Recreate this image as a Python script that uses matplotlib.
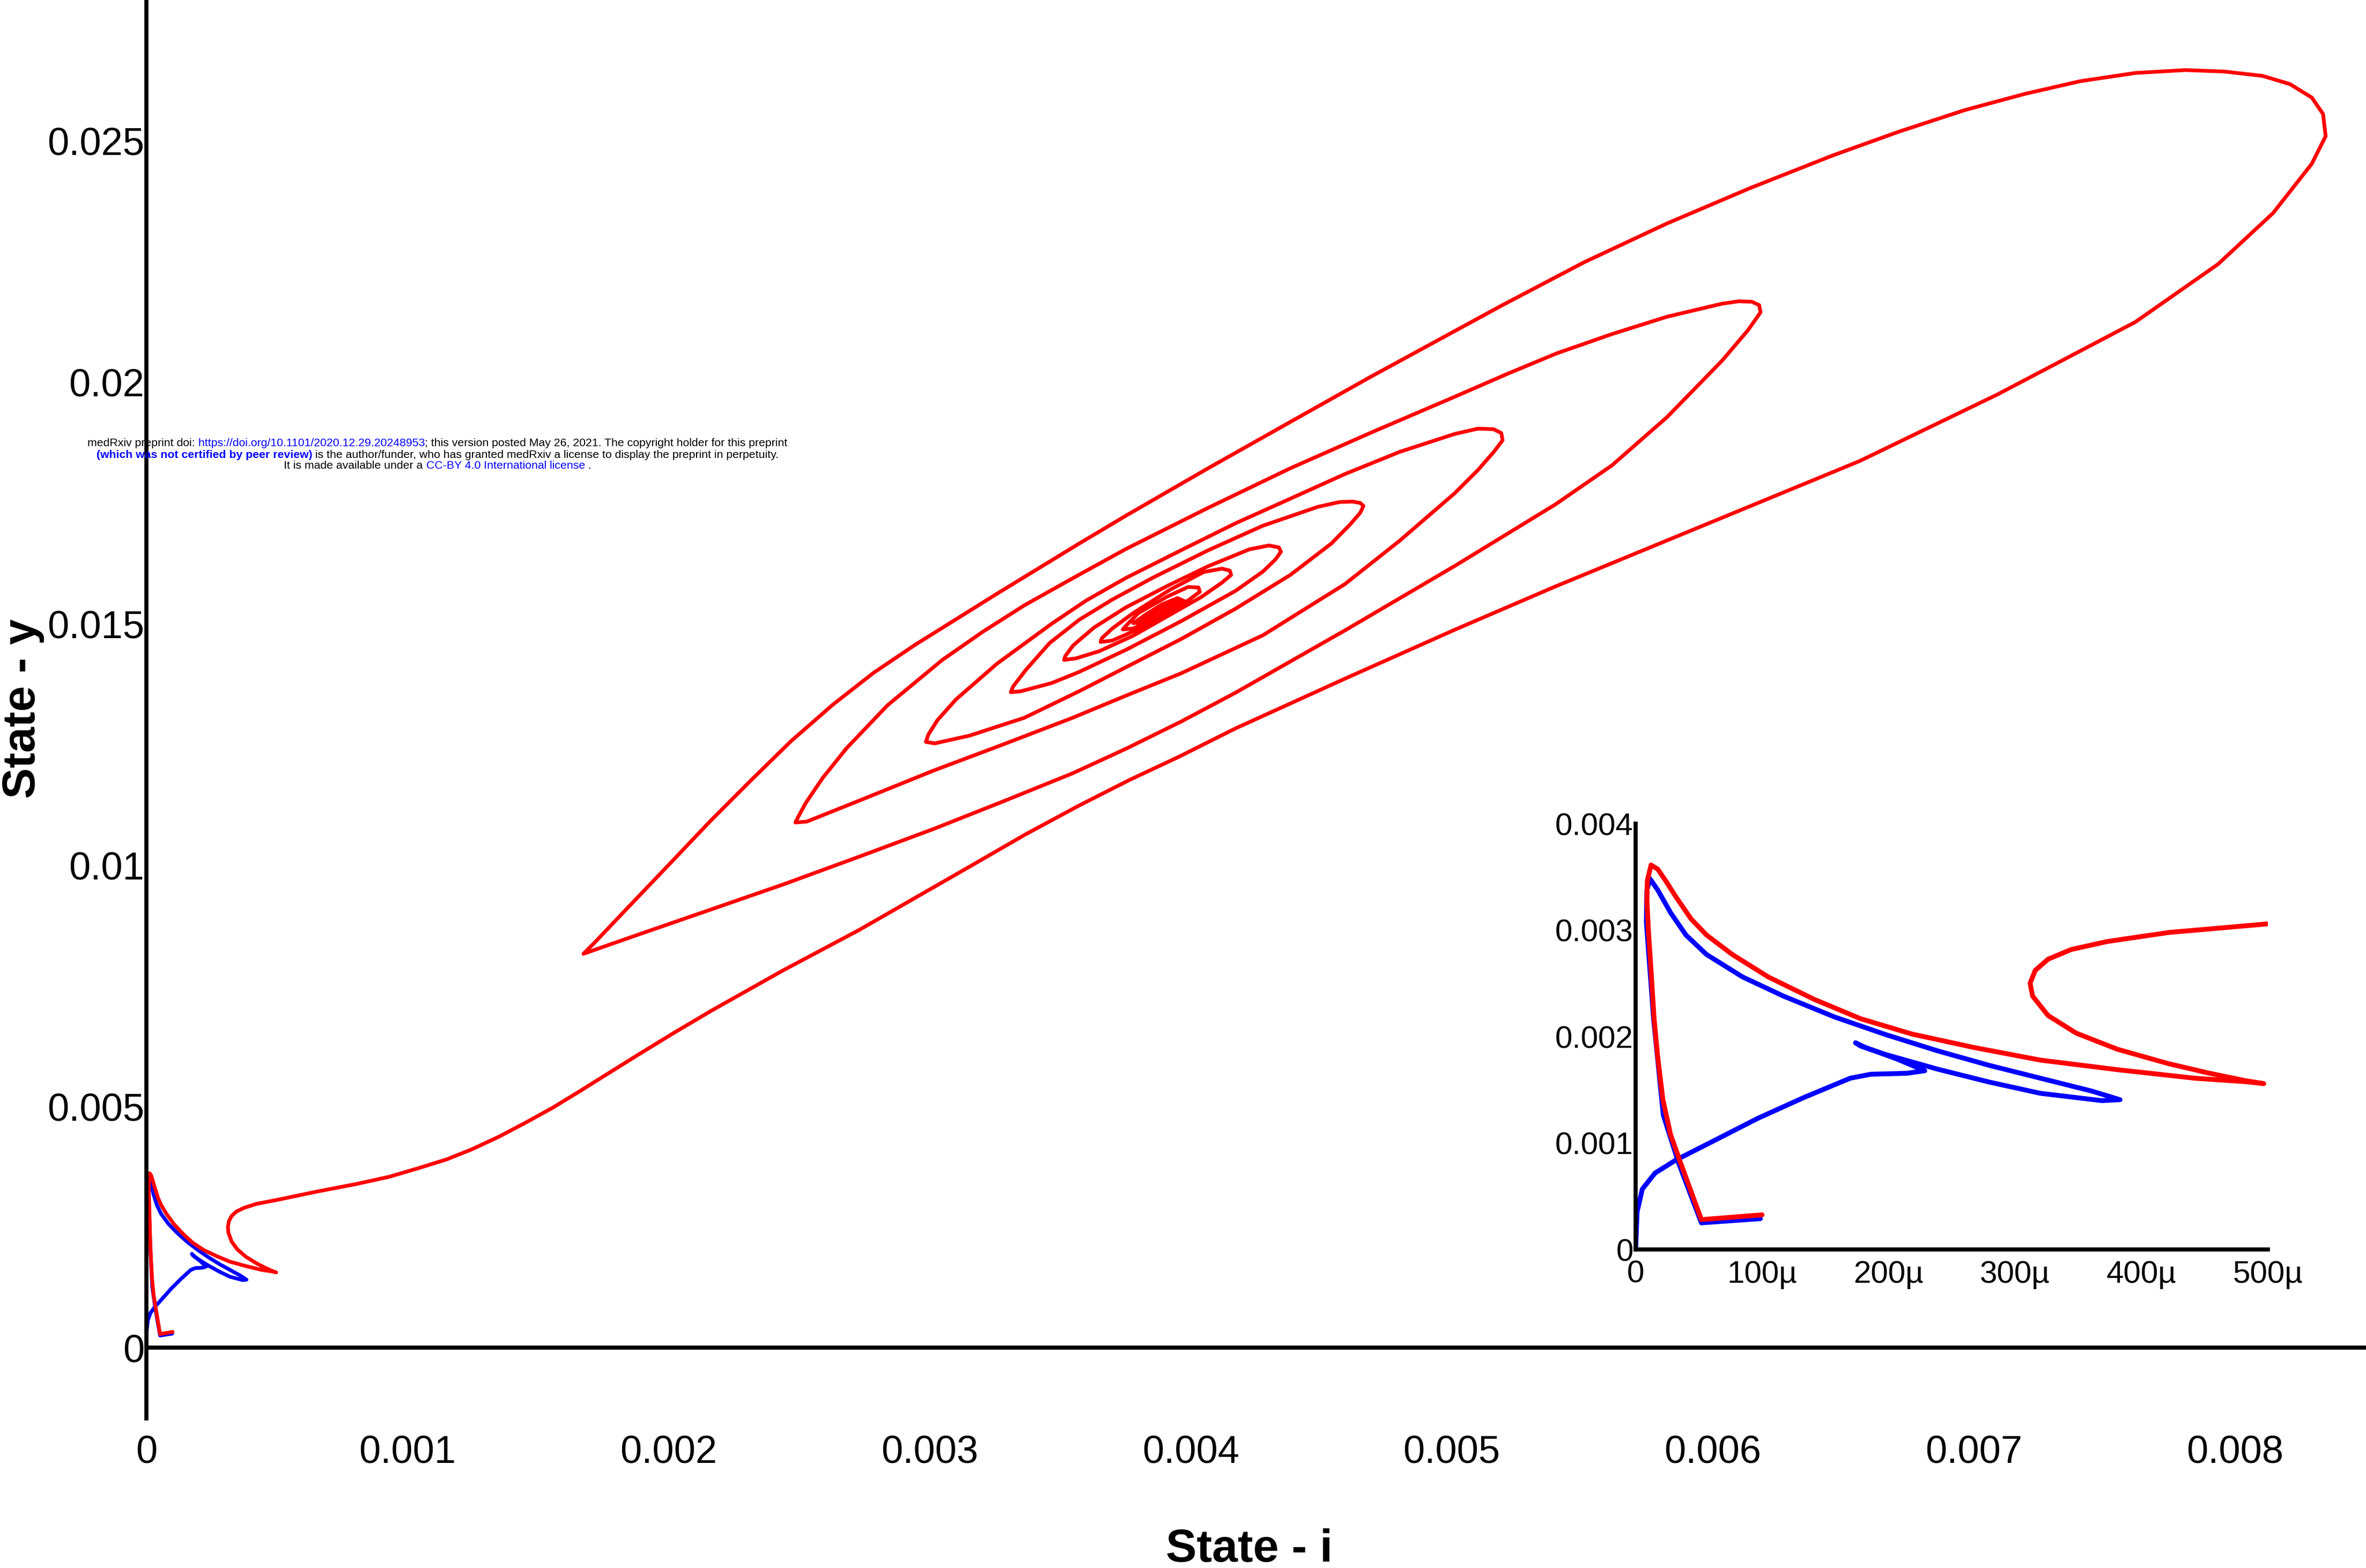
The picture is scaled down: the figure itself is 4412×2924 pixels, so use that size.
import matplotlib.pyplot as plt
from matplotlib import font_manager
from matplotlib.offsetbox import TextArea, HPacker, AnnotationBbox

plt.rcParams['font.family'] = ['Liberation Sans', 'DejaVu Sans']

# red trajectory (state i on x, state y on y)
red_i = [
    # start near the origin (as in the inset)
    1.00e-4, 5.2e-5, 3.57e-5, 2.76e-5, 2.15e-5, 1.75e-5, 1.46e-5, 1.22e-5, 1.02e-5, 8.9e-6,
    9.3e-6, 1.22e-5, 1.75e-5, 2.36e-5, 3.17e-5, 4.39e-5, 5.61e-5, 7.64e-5, 1.048e-4, 1.414e-4,
    1.779e-4, 2.185e-4, 2.67e-4, 3.20e-4, 3.81e-4, 4.42e-4, 4.826e-4, 4.968e-4, 4.826e-4, 4.54e-4,
    4.216e-4, 3.81e-4, 3.485e-4, 3.262e-4, 3.14e-4, 3.12e-4, 3.16e-4, 3.262e-4, 3.445e-4, 3.729e-4,
    4.216e-4, 4.623e-4, 5.0e-4,
    # outer loop, lower side
    0.00065, 0.000804, 0.00093, 0.001043, 0.00115, 0.001247, 0.00135, 0.001452, 0.001556, 0.001656,
    0.001878, 0.00202, 0.002167, 0.00244, 0.002729, 0.002945, 0.003161, 0.003366, 0.003572, 0.003765,
    0.003958, 0.004172, 0.004591, 0.00501, 0.005397, 0.00598, 0.006563, 0.007091, 0.007619, 0.007936,
    0.008147, 0.008295, 0.008348, 0.008338, 0.008295, 0.008211, 0.008106, 0.007959, 0.00781, 0.007619,
    0.007408, 0.007198, 0.006965, 0.006711, 0.006459, 0.006141, 0.005824, 0.005508, 0.005191,
    # outer loop, upper side
    0.004688, 0.004382, 0.004067, 0.003753, 0.003573, 0.003258, 0.002944, 0.002785, 0.002629, 0.00247,
    0.002315, 0.00216, 0.002009, 0.00185, 0.00172, 0.001674,
    # second loop
    0.001864, 0.002153, 0.002441, 0.002729, 0.003017, 0.003283, 0.003548, 0.003753, 0.003963,
    0.004172, 0.004591, 0.00501, 0.005397, 0.005614, 0.005825, 0.006036, 0.006135, 0.006183, 0.006178,
    0.00615, 0.0061, 0.006036, 0.005825, 0.005614, 0.005402, 0.005215, 0.005011, 0.004696, 0.004382,
    0.004067, 0.003753, 0.003558, 0.003363, 0.003206, 0.003049, 0.002839, 0.002682, 0.00259, 0.002525,
    0.002495, 0.002486,
    # third loop
    0.00253, 0.002729, 0.003017, 0.003283, 0.003548, 0.003753, 0.003963, 0.004277, 0.004591, 0.004801,
    0.005011, 0.0051, 0.00516, 0.005195, 0.00519, 0.00516, 0.0051, 0.005011, 0.004801, 0.004591,
    0.004382, 0.004172, 0.003963, 0.003753, 0.0036, 0.003468, 0.003258, 0.003101, 0.00303, 0.002995,
    0.002986,
    # fourth loop
    0.00302, 0.003153, 0.003363, 0.003573, 0.003753, 0.003963, 0.004172, 0.004382, 0.004539, 0.00461,
    0.00465, 0.004662, 0.00465, 0.00462, 0.00457, 0.004487, 0.004277, 0.004067, 0.003858, 0.0037,
    0.003573, 0.00346, 0.00337, 0.00332, 0.003311,
    # fifth loop
    0.00335, 0.003468, 0.003573, 0.003753, 0.003963, 0.004172, 0.004277, 0.004325, 0.004346, 0.004338,
    0.0043, 0.004225, 0.004067, 0.00391, 0.003753, 0.00363, 0.00355, 0.00352, 0.003515,
    # sixth loop
    0.00356, 0.00365, 0.00378, 0.00391, 0.00404, 0.00412, 0.004155, 0.00415, 0.00412, 0.00405,
    0.00392, 0.00378, 0.0037, 0.00366, 0.003655,
    # inner turns around the fixed point
    0.0037, 0.00378, 0.0039, 0.00399, 0.004035, 0.00403, 0.00399, 0.00391, 0.0038, 0.00376,
    0.00374, 0.00378, 0.00386, 0.00394, 0.003975, 0.00395, 0.00389, 0.00382, 0.00379, 0.00383,
    0.0039, 0.00394, 0.00392, 0.00386, 0.00382, 0.00385, 0.0039, 0.00389, 0.00385, 0.00387,
    0.00392, 0.00396, 0.00394, 0.00388, 0.00381, 0.00378, 0.00381, 0.00388, 0.00395, 0.00393,
    0.00387, 0.00382, 0.0038, 0.00384, 0.00391, 0.00393, 0.00389, 0.00384, 0.00383, 0.00387,
    0.0039, 0.00388, 0.00386,
]
red_y = [
    0.000326, 0.000281, 0.00081, 0.001082, 0.001414, 0.001807, 0.002169, 0.002622, 0.002985, 0.003287,
    0.003468, 0.003613, 0.003574, 0.003468, 0.003317, 0.003106, 0.002955, 0.002773, 0.002562, 0.00235,
    0.002169, 0.002025, 0.0019, 0.00178, 0.00169, 0.00161, 0.001577, 0.001559, 0.001586, 0.001656,
    0.001746, 0.001882, 0.002033, 0.002199, 0.002381, 0.002502, 0.002622, 0.002728, 0.002819, 0.002894,
    0.002979, 0.003021, 0.00306,
    0.00323, 0.00339, 0.00354, 0.00372, 0.0039, 0.00411, 0.00437, 0.00466, 0.00497, 0.0053,
    0.00605, 0.00652, 0.00699, 0.00782, 0.00865, 0.00932, 0.00999, 0.01063, 0.01123, 0.01176,
    0.01225, 0.01283, 0.01386, 0.01487, 0.01577, 0.01707, 0.01837, 0.01975, 0.02125, 0.02245,
    0.02351, 0.02453, 0.0251, 0.02556, 0.0259, 0.02618, 0.02635, 0.02644, 0.02647, 0.02641,
    0.02624, 0.02598, 0.02564, 0.02519, 0.0247, 0.02402, 0.02329, 0.02249, 0.02159,
    0.02011, 0.01918, 0.01822, 0.01724, 0.01666, 0.01562, 0.01456, 0.01398, 0.01332, 0.01257,
    0.01175, 0.01091, 0.01005, 0.00915, 0.00841, 0.00816,
    0.00852, 0.00906, 0.0096, 0.01017, 0.01075, 0.01132, 0.0119, 0.01241, 0.01297,
    0.01357, 0.01486, 0.01619, 0.01747, 0.01828, 0.01928, 0.02045, 0.02108, 0.02145, 0.0216,
    0.02167, 0.02168, 0.02163, 0.02136, 0.021, 0.0206, 0.02018, 0.0197, 0.01897, 0.01822,
    0.0174, 0.01655, 0.01597, 0.01538, 0.01484, 0.01425, 0.01331, 0.01242, 0.0118, 0.01128,
    0.01098, 0.01088,
    0.0109, 0.01133, 0.01196, 0.0125, 0.01305, 0.01351, 0.01397, 0.01476, 0.01582, 0.01672,
    0.0177, 0.01818, 0.01855, 0.0188, 0.01895, 0.01903, 0.01904, 0.01893, 0.01856, 0.0181,
    0.01759, 0.01708, 0.01652, 0.01595, 0.01548, 0.015, 0.01417, 0.01343, 0.013, 0.0127,
    0.01255,
    0.01252, 0.01268, 0.01305, 0.0136, 0.0141, 0.01468, 0.01531, 0.01601, 0.01666, 0.01705,
    0.0173, 0.01744, 0.0175, 0.01753, 0.01752, 0.01742, 0.01703, 0.01652, 0.01596, 0.0155,
    0.01508, 0.0146, 0.01405, 0.0137, 0.01358,
    0.0136, 0.01377, 0.014, 0.01446, 0.01505, 0.01568, 0.01608, 0.01633, 0.01649, 0.01658,
    0.01662, 0.01654, 0.01619, 0.01578, 0.01534, 0.01492, 0.01455, 0.01433, 0.01425,
    0.01428, 0.01443, 0.01475, 0.01515, 0.01555, 0.01585, 0.01601, 0.0161, 0.01614, 0.01607,
    0.0157, 0.01522, 0.0149, 0.0147, 0.01462,
    0.01465, 0.01484, 0.01518, 0.01548, 0.01566, 0.01575, 0.01576, 0.01556, 0.01522, 0.015,
    0.01488, 0.0149, 0.0151, 0.01533, 0.01547, 0.01553, 0.0154, 0.01516, 0.01502, 0.01504,
    0.0152, 0.01534, 0.01537, 0.01524, 0.0151, 0.01512, 0.01525, 0.01529, 0.01519, 0.0152,
    0.01532, 0.01545, 0.01549, 0.01536, 0.01512, 0.01501, 0.01503, 0.01521, 0.01541, 0.01545,
    0.0153, 0.01514, 0.01506, 0.01511, 0.0153, 0.01538, 0.01532, 0.01516, 0.01512, 0.01521,
    0.0153, 0.01527, 0.01522,
]

# blue trajectory
blue_i = [9.87e-5, 5.2e-5, 3.41e-5, 2.19e-5, 1.42e-5, 8.5e-6, 8.9e-6, 1.14e-5, 1.75e-5, 2.76e-5,
          3.98e-5, 5.6e-5, 8.45e-5, 1.17e-4, 1.576e-4, 1.982e-4, 2.388e-4, 2.795e-4, 3.201e-4,
          3.607e-4, 3.831e-4, 3.688e-4, 3.201e-4, 2.795e-4, 2.388e-4, 1.982e-4, 1.779e-4, 1.739e-4,
          1.82e-4, 2.063e-4, 2.287e-4, 2.145e-4, 1.86e-4, 1.698e-4, 1.332e-4, 9.67e-5, 6.42e-5,
          3.17e-5, 1.54e-5, 5.3e-6, 1.2e-6, 0.0]
blue_y = [0.00029, 0.000251, 0.00081, 0.001263, 0.002169, 0.003076, 0.003378, 0.003483, 0.003378,
          0.003166, 0.002955, 0.002773, 0.002562, 0.002381, 0.002184, 0.002018, 0.001867, 0.001731,
          0.00161, 0.001489, 0.001408, 0.001399, 0.001468, 0.001574, 0.001695, 0.001831, 0.001912,
          0.001943, 0.001897, 0.001792, 0.00168, 0.001656, 0.001647, 0.00161, 0.001429, 0.001233,
          0.001036, 0.00084, 0.000719, 0.000568, 0.000356, 0.0]

x_ticks = [0, 0.001, 0.002, 0.003, 0.004, 0.005, 0.006, 0.007, 0.008]
x_labels = ['0', '0.001', '0.002', '0.003', '0.004', '0.005', '0.006', '0.007', '0.008']
y_ticks = [0, 0.005, 0.01, 0.015, 0.02, 0.025]
y_labels = ['0', '0.005', '0.01', '0.015', '0.02', '0.025']
inset_x_ticks = [0, 1e-4, 2e-4, 3e-4, 4e-4, 5e-4]
inset_x_labels = ['0', '100\u00b5', '200\u00b5', '300\u00b5', '400\u00b5', '500\u00b5']
inset_y_ticks = [0, 0.001, 0.002, 0.003, 0.004]
inset_y_labels = ['0', '0.001', '0.002', '0.003', '0.004']

RED = '#ff0000'
BLUE = '#0000ff'

fig = plt.figure(figsize=(44.12, 29.24), dpi=100)
fig.patch.set_facecolor('white')

# main phase plot
ax = fig.add_axes([0.0619, 0.0954, 0.9381, 0.9046])
ax.plot(blue_i, blue_y, color=BLUE, lw=5, solid_joinstyle='round', solid_capstyle='round')
ax.plot(red_i, red_y, color=RED, lw=5, solid_joinstyle='round', solid_capstyle='round')
ax.axhline(0, color='black', lw=5.5, zorder=1)
ax.set_xlim(0, 0.0085025)
ax.set_ylim(-0.0014667, 0.027922)
for side in ['top', 'right', 'bottom']:
    ax.spines[side].set_visible(False)
ax.spines['left'].set_linewidth(5.5)
ax.set_xticks(x_ticks, labels=x_labels)
ax.set_yticks(y_ticks, labels=y_labels)
ax.tick_params(axis='x', length=0, pad=22, labelsize=52)
ax.tick_params(axis='y', length=0, pad=3, labelsize=52)

fig.text(2330 / 4412, 0.004, 'State - i', ha='center', va='baseline',
         fontsize=62, fontweight='bold')
fig.text(65 / 4412, 0.548, 'State - y', rotation=90, rotation_mode='anchor',
         ha='center', va='baseline', fontsize=62, fontweight='bold')

# zoomed inset near the origin
axin = fig.add_axes([0.6913, 0.2031, 0.2672, 0.2715])
axin.plot(blue_i, blue_y, color=BLUE, lw=6.5, solid_joinstyle='round', solid_capstyle='round')
axin.plot(red_i, red_y, color=RED, lw=6.5, solid_joinstyle='round', solid_capstyle='round')
axin.set_xlim(0, 5e-4)
axin.set_ylim(0, 0.004)
for side in ['top', 'right']:
    axin.spines[side].set_visible(False)
for side in ['left', 'bottom']:
    axin.spines[side].set_linewidth(5.5)
axin.set_xticks(inset_x_ticks, labels=inset_x_labels)
axin.set_yticks(inset_y_ticks, labels=inset_y_labels)
axin.tick_params(axis='x', length=0, pad=14, labelsize=42)
axin.tick_params(axis='y', length=0, pad=3, labelsize=42)

# medRxiv stamp
names = {f.name for f in font_manager.fontManager.ttflist}
if 'Liberation Sans Narrow' in names:
    wm_family, wm_size = 'Liberation Sans Narrow', 18
else:
    wm_family, wm_size = 'Liberation Sans', 15.3
stamp_lines = [
    [('medRxiv preprint doi:', 'black', 'normal'),
     (' https://doi.org/10.1101/2020.12.29.20248953', BLUE, 'normal'),
     ('; this version posted May 26, 2021. The copyright holder for this preprint', 'black', 'normal')],
    [('(which was not certified by peer review)', BLUE, 'bold'),
     (' is the author/funder, who has granted medRxiv a license to display the preprint in perpetuity.',
      'black', 'normal')],
    [('It is made available under a', 'black', 'normal'),
     (' CC-BY 4.0 International license', BLUE, 'normal'),
     (' .', 'black', 'normal')],
]
stamp_y = [2924 - 827, 2924 - 848, 2924 - 869]
for pieces, ypix in zip(stamp_lines, stamp_y):
    boxes = [TextArea(s, textprops=dict(color=c, fontweight=w, fontsize=wm_size, family=wm_family))
             for s, c, w in pieces]
    row = HPacker(children=boxes, align='baseline', pad=0, sep=0)
    ab = AnnotationBbox(row, (816, ypix), xycoords='figure pixels', frameon=False,
                        box_alignment=(0.5, 0.5), pad=0, annotation_clip=False)
    fig.add_artist(ab)

fig.savefig('out.png', dpi=100, facecolor='white')
